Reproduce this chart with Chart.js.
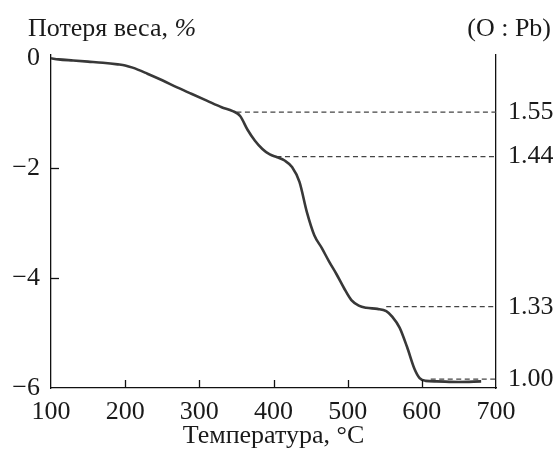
<!DOCTYPE html>
<html><head><meta charset="utf-8">
<script src="https://cdn.jsdelivr.net/npm/chart.js@4.4.0/dist/chart.umd.min.js"></script>
<style>html,body{margin:0;padding:0;background:#fff}#wrap{width:553px;height:454px;position:relative}</style>
</head><body><div id="wrap"><canvas id="c"></canvas></div>
<script>
// Temperature, °C
const temperature = [100,110,130,150,170,190,200,210,230,250,270,290,310,330,345,355,365,375,385,395,405,415,425,435,445,455,465,475,485,495,505,515,525,540,552,560,570,580,590,597,605,620,650,680];
// Weight loss, %
const weightLoss = [0,-0.02,-0.04,-0.06,-0.08,-0.11,-0.13,-0.17,-0.28,-0.40,-0.53,-0.65,-0.77,-0.89,-0.96,-1.05,-1.30,-1.50,-1.65,-1.75,-1.80,-1.86,-1.98,-2.25,-2.80,-3.22,-3.45,-3.70,-3.93,-4.18,-4.40,-4.50,-4.54,-4.56,-4.60,-4.70,-4.90,-5.25,-5.65,-5.82,-5.87,-5.88,-5.89,-5.88];
// O:Pb ratio reference levels
const ratioLabels = ['1.55','1.44','1.33','1.00'];
const ratioLevels = [-0.98,-1.79,-4.52,-5.84];
const ratioStartT = [350,404,552,612];
const xTicks = [100,200,300,400,500,600,700];
const yTicks = [0,-2,-4,-6];
const xInnerTicks = [200,300,400,500,600];
const yInnerTicks = [-2,-4];

const FONT = 'Liberation Serif, Times New Roman, serif';
const FS = 26;
const INK = '#1a1a1a';

const datasets = [{
  data: temperature.map((t,i)=>({x:t,y:weightLoss[i]})),
  borderColor:'#383838', borderWidth:2.6, pointRadius:0, cubicInterpolationMode:'monotone', fill:false
}];
ratioLevels.forEach((lv,i)=>{
  datasets.push({
    data:[{x:ratioStartT[i],y:lv},{x:700,y:lv}],
    borderColor:'#444', borderWidth:1.2, borderDash:[5,3.5], pointRadius:0, fill:false
  });
});

const decor = {
  id:'decor',
  afterDraw(chart){
    const ctx = chart.ctx, xs = chart.scales.x, ys = chart.scales.y;
    ctx.save();
    ctx.strokeStyle = '#111'; ctx.lineWidth = 1.3;
    xInnerTicks.forEach(v=>{
      const px = Math.round(xs.getPixelForValue(v))+0.5;
      ctx.beginPath(); ctx.moveTo(px, ys.bottom); ctx.lineTo(px, ys.bottom-8); ctx.stroke();
    });
    yInnerTicks.forEach(v=>{
      const py = Math.round(ys.getPixelForValue(v))+0.5;
      ctx.beginPath(); ctx.moveTo(xs.left, py); ctx.lineTo(xs.left+8, py); ctx.stroke();
    });
    ctx.fillStyle = INK;
    ctx.font = FS+'px '+FONT;
    ctx.textBaseline = 'alphabetic';
    ctx.textAlign = 'left';
    const t1 = 'Потеря веса, ';
    ctx.fillText(t1, 28, 36);
    const w1 = ctx.measureText(t1).width;
    ctx.font = 'italic '+FS+'px '+FONT;
    ctx.fillText('%', 28+w1, 36);
    ctx.font = FS+'px '+FONT;
    ctx.textAlign = 'right';
    ctx.fillText('(O : Pb)', 551, 36);
    ctx.restore();
  }
};

const minus = v => String(v).replace('-', '\u2212');

new Chart(document.getElementById('c'), {
  type:'line',
  data:{datasets},
  options:{
    responsive:true, maintainAspectRatio:false, animation:false,
    layout:{padding:{top:55,left:0,right:0,bottom:0}},
    plugins:{legend:{display:false}, tooltip:{enabled:false}},
    scales:{
      x:{type:'linear', min:100, max:700,
        afterBuildTicks:s=>{s.ticks = xTicks.map(v=>({value:v}));},
        afterFit:s=>{s.height = 66;},
        grid:{display:false, drawTicks:false},
        border:{display:true, color:'#111', width:1.3},
        ticks:{font:{family:FONT,size:FS}, color:INK, padding:9, maxRotation:0, autoSkip:false},
        title:{display:true, text:'Температура, °C', font:{family:FONT,size:FS}, color:INK, padding:{top:0,bottom:2}}
      },
      y:{type:'linear', position:'left', min:-6, max:0.06,
        afterBuildTicks:s=>{s.ticks = yTicks.map(v=>({value:v}));},
        afterFit:s=>{s.width = 51;},
        grid:{display:false, drawTicks:false},
        border:{display:true, color:'#111', width:1.3},
        ticks:{font:{family:FONT,size:FS}, color:INK, padding:11, callback:v=>minus(v)}
      },
      y2:{type:'linear', position:'right', min:-6, max:0.06,
        afterBuildTicks:s=>{s.ticks = ratioLevels.map(v=>({value:v}));},
        afterFit:s=>{s.width = 57;},
        grid:{display:false, drawTicks:false},
        border:{display:true, color:'#111', width:1.3},
        ticks:{font:{family:FONT,size:FS}, color:INK, padding:12, callback:(v,i)=>ratioLabels[i]}
      }
    }
  },
  plugins:[decor]
});
</script></body></html>
